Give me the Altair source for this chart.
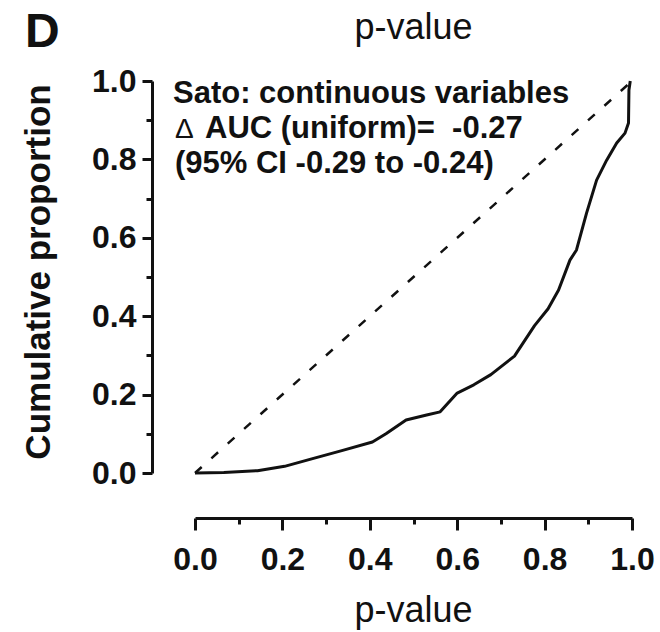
import altair as alt
import pandas as pd

# ---- data ----
p_values = [0.0, 0.066, 0.143, 0.205, 0.267, 0.336, 0.406, 0.437, 0.483, 0.53, 0.561,
            0.60, 0.638, 0.677, 0.731, 0.777, 0.808, 0.832, 0.858, 0.873, 0.896, 0.919,
            0.942, 0.965, 0.984, 0.992, 0.993, 0.996]
cum_prop = [0.0, 0.001, 0.006, 0.017, 0.036, 0.057, 0.079, 0.100, 0.135, 0.148, 0.156,
            0.204, 0.225, 0.251, 0.298, 0.376, 0.419, 0.467, 0.543, 0.569, 0.663, 0.747,
            0.798, 0.842, 0.867, 0.893, 0.977, 1.0]
uniform_x = [0.0, 1.0]
uniform_y = [0.0, 1.0]
major_ticks = [0.0, 0.2, 0.4, 0.6, 0.8, 1.0]
minor_ticks = [0.1, 0.3, 0.5, 0.7, 0.9]
panel_label = ["D"]
top_title = ["p-value"]
x_title = ["p-value"]
y_title = ["Cumulative proportion"]
annot_line1 = ["Sato: continuous variables"]
annot_delta = ["\u0394"]
annot_line2 = ["AUC (uniform)=\u00a0 -0.27"]
annot_line3 = ["(95% CI -0.29 to -0.24)"]

FONT = "Liberation Sans"
INK = "#111111"

curve_df = pd.DataFrame({"p": p_values, "cum": cum_prop})
diag_df = pd.DataFrame({"p": uniform_x, "cum": uniform_y})

xs = alt.Scale(domain=[0, 1], nice=False, zero=False)
ys = alt.Scale(domain=[0, 1], nice=False, zero=False)

x_major = alt.Axis(orient="bottom", values=major_ticks, format=".1f", offset=45,
                   tickSize=12, tickWidth=3, domainWidth=3, domainColor=INK, tickColor=INK,
                   labelFont=FONT, labelFontSize=32, labelFontWeight="bold", labelColor=INK,
                   labelPadding=14, labelFlush=False, title=None, grid=False)
x_minor = alt.Axis(orient="bottom", values=minor_ticks, labels=False, offset=45,
                   tickSize=6, tickWidth=3, domain=False, tickColor=INK, title=None, grid=False)
y_major = alt.Axis(orient="left", values=major_ticks, format=".1f", offset=43,
                   tickSize=10, tickWidth=3, domainWidth=3, domainColor=INK, tickColor=INK,
                   labelFont=FONT, labelFontSize=32, labelFontWeight="bold", labelColor=INK,
                   labelPadding=6, labelFlush=False, title=None, grid=False)
y_minor = alt.Axis(orient="left", values=minor_ticks, labels=False, offset=43,
                   tickSize=6, tickWidth=3, domain=False, tickColor=INK, title=None, grid=False)

diag = alt.Chart(diag_df).mark_line(color=INK, strokeWidth=2.5, strokeDash=[9, 13]).encode(
    x=alt.X("p:Q", scale=xs, axis=x_major),
    y=alt.Y("cum:Q", scale=ys, axis=y_major),
)
minor = alt.Chart(diag_df).mark_line(opacity=0).encode(
    x=alt.X("p:Q", scale=xs, axis=x_minor),
    y=alt.Y("cum:Q", scale=ys, axis=y_minor),
)
curve = alt.Chart(curve_df).mark_line(color=INK, strokeWidth=3, strokeJoin="round").encode(
    x=alt.X("p:Q", scale=xs, axis=None),
    y=alt.Y("cum:Q", scale=ys, axis=None),
)


def label(values, x, y, size, weight="bold", align="left", baseline="alphabetic", angle=0):
    df = pd.DataFrame({"t": values})
    kw = dict(font=FONT, fontSize=size, fontWeight=weight, align=align,
              baseline=baseline, color=INK)
    if angle:
        kw["angle"] = angle
    return alt.Chart(df).mark_text(**kw).encode(
        text="t:N", x=alt.value(x), y=alt.value(y))


texts = [
    label(panel_label, -170, -34, 48),
    label(top_title, 218.5, -42, 36, weight="normal", align="center"),
    label(x_title, 218.5, 541, 36, weight="normal", align="center"),
    label(y_title, -145, 191, 35, align="center", angle=270),
    label(annot_line1, -22, 22, 31),
    label(annot_delta, -20, 57, 28, weight="normal"),
    label(annot_line2, 10, 57, 31),
    label(annot_line3, -20, 92, 31),
]

chart = alt.layer(diag, curve, minor, *texts).resolve_axis(
    x="independent", y="independent"
).properties(
    width=437, height=392,
    padding={"left": 195, "top": 81, "right": 28, "bottom": 159},
    autosize="none",
    background="white",
).configure_view(stroke=None)

chart.save("out.html", embed_options={"renderer": "svg", "actions": False})
